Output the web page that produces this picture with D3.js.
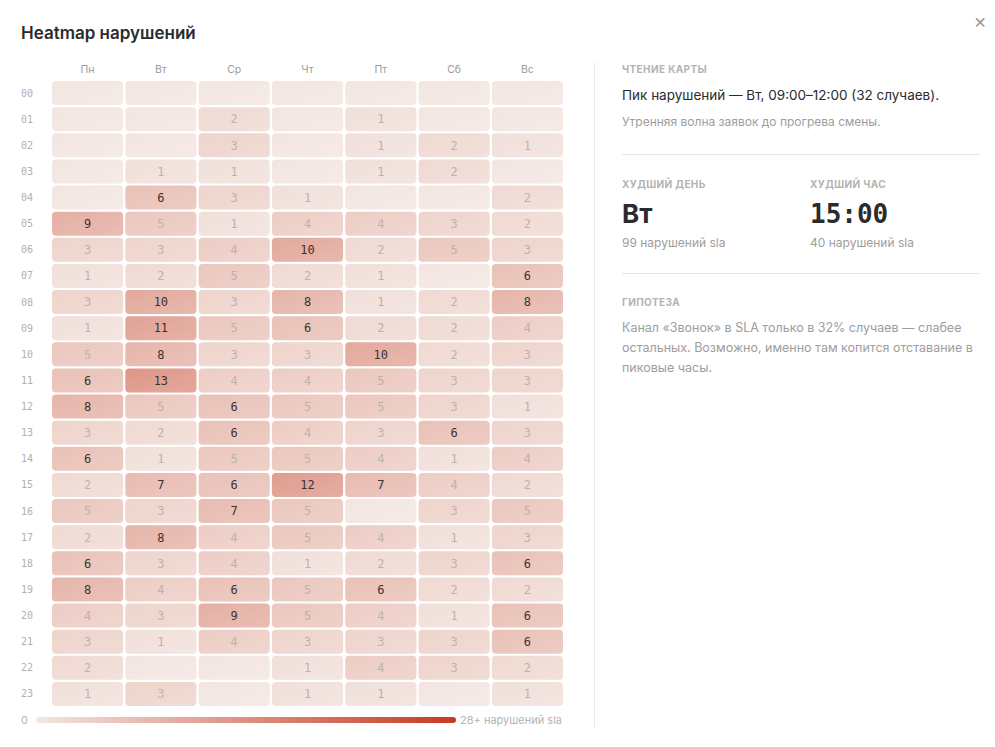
<!DOCTYPE html>
<html>
<head>
<meta charset="utf-8">
<script src="https://cdn.jsdelivr.net/npm/d3@7"></script>
<style>
  body { margin: 0; background: #fff; }
  svg { display: block; font-family: Inter, "Noto Sans", sans-serif; }
</style>
</head>
<body>
<svg id="chart" width="995" height="747"></svg>
<script>
const days = ['Пн', 'Вт', 'Ср', 'Чт', 'Пт', 'Сб', 'Вс'];
const hours = d3.range(24).map(h => String(h).padStart(2, '0'));
// rows = hours 00..23, columns = Пн..Вс
const violations = [
  [0, 0, 0, 0, 0, 0, 0],
  [0, 0, 2, 0, 1, 0, 0],
  [0, 0, 3, 0, 1, 2, 1],
  [0, 1, 1, 0, 1, 2, 0],
  [0, 6, 3, 1, 0, 0, 2],
  [9, 5, 1, 4, 4, 3, 2],
  [3, 3, 4, 10, 2, 5, 3],
  [1, 2, 5, 2, 1, 0, 6],
  [3, 10, 3, 8, 1, 2, 8],
  [1, 11, 5, 6, 2, 2, 4],
  [5, 8, 3, 3, 10, 2, 3],
  [6, 13, 4, 4, 5, 3, 3],
  [8, 5, 6, 5, 5, 3, 1],
  [3, 2, 6, 4, 3, 6, 3],
  [6, 1, 5, 5, 4, 1, 4],
  [2, 7, 6, 12, 7, 4, 2],
  [5, 3, 7, 5, 0, 3, 5],
  [2, 8, 4, 5, 4, 1, 3],
  [6, 3, 4, 1, 2, 3, 6],
  [8, 4, 6, 5, 6, 2, 2],
  [4, 3, 9, 5, 4, 1, 6],
  [3, 1, 4, 3, 3, 3, 6],
  [2, 0, 0, 1, 4, 3, 2],
  [1, 3, 0, 1, 1, 0, 1]
];
const maxValue = 28;
const legendLabels = ['0', '28+ нарушений sla'];
const hypothesisLines = [
  'Канал «Звонок» в SLA только в 32% случаев — слабее',
  'остальных. Возможно, именно там копится отставание в',
  'пиковые часы.'
];

const svg = d3.select('#chart');
const mono = '"DejaVu Sans Mono", monospace';

// title + close
svg.append('text').attr('x', 21).attr('y', 39)
  .attr('font-size', 17).attr('font-weight', 600).attr('fill', '#2b2b2e')
  .text('Heatmap нарушений');
svg.append('text').attr('x', 980).attr('y', 28).attr('text-anchor', 'middle')
  .attr('font-size', 20).attr('fill', '#9a9a9a').text('×');

const x = d3.scaleBand().domain(days).range([52, 563]).paddingInner(0.03);
const y = d3.scaleBand().domain(hours).range([81, 706]).paddingInner(0.08);
const color = d3.scaleLinear().domain([0, maxValue])
  .range(['#f3e6e1', '#c63a1f']).interpolate(d3.interpolateRgb).clamp(true);

const defs = svg.append('defs');
const sheen = defs.append('linearGradient').attr('id', 'sheen')
  .attr('x1', 0).attr('x2', 1).attr('y1', 0).attr('y2', 1);
sheen.append('stop').attr('offset', '0%').attr('stop-color', '#fff').attr('stop-opacity', 0);
sheen.append('stop').attr('offset', '100%').attr('stop-color', '#fff').attr('stop-opacity', 0.18);

// column labels
svg.append('g').selectAll('text').data(days).join('text')
  .attr('x', d => x(d) + x.bandwidth() / 2).attr('y', 73)
  .attr('text-anchor', 'middle').attr('font-size', 10.5).attr('fill', '#9b9b9b')
  .text(d => d);

// row labels
svg.append('g').selectAll('text').data(hours).join('text')
  .attr('x', 21).attr('y', d => y(d) + y.bandwidth() / 2).attr('dy', '0.35em')
  .attr('font-family', mono).attr('font-size', 10).attr('fill', '#b0b0b0')
  .text(d => d);

const cells = [];
violations.forEach((row, i) => row.forEach((v, j) => cells.push({ hour: hours[i], day: days[j], v })));

const cell = svg.append('g').selectAll('g').data(cells).join('g')
  .attr('transform', d => `translate(${x(d.day)},${y(d.hour)})`);
cell.append('rect').attr('width', x.bandwidth()).attr('height', y.bandwidth())
  .attr('rx', 4).attr('fill', d => color(d.v));
cell.append('rect').attr('width', x.bandwidth()).attr('height', y.bandwidth())
  .attr('rx', 4).attr('fill', 'url(#sheen)');
cell.filter(d => d.v > 0).append('text')
  .attr('x', x.bandwidth() / 2).attr('y', y.bandwidth() / 2).attr('dy', '0.36em')
  .attr('text-anchor', 'middle').attr('font-family', mono).attr('font-size', 12)
  .attr('fill', d => d.v >= 6 ? '#3a3330' : '#bfb1ac')
  .text(d => d.v);

// legend
const lg = defs.append('linearGradient').attr('id', 'legendGrad');
d3.range(0, 1.01, 0.25).forEach(t => lg.append('stop')
  .attr('offset', `${t * 100}%`).attr('stop-color', color(t * maxValue)));
svg.append('text').attr('x', 21).attr('y', 724).attr('font-size', 11).attr('fill', '#b5b5b5').text(legendLabels[0]);
svg.append('rect').attr('x', 36).attr('y', 717).attr('width', 420).attr('height', 6)
  .attr('rx', 3).attr('fill', 'url(#legendGrad)');
svg.append('text').attr('x', 562).attr('y', 724).attr('text-anchor', 'end')
  .attr('font-size', 11).attr('fill', '#b5b5b5').text(legendLabels[1]);

// side panel
svg.append('line').attr('x1', 594.5).attr('x2', 594.5).attr('y1', 62).attr('y2', 728)
  .attr('stroke', '#ececec');
const px = 622;
const cap = (xx, yy, t) => svg.append('text').attr('x', xx).attr('y', yy)
  .attr('font-size', 10).attr('font-weight', 700).attr('letter-spacing', 0.4)
  .attr('fill', '#b3b3b3').text(t);
cap(px, 73, 'ЧТЕНИЕ КАРТЫ');
svg.append('text').attr('x', px).attr('y', 100).attr('font-size', 13.5).attr('fill', '#2b2b2e')
  .text('Пик нарушений — Вт, 09:00–12:00 (32 случаев).');
svg.append('text').attr('x', px).attr('y', 126).attr('font-size', 12).attr('fill', '#9d9d9d')
  .text('Утренняя волна заявок до прогрева смены.');
svg.append('line').attr('x1', px).attr('x2', 980).attr('y1', 154.5).attr('y2', 154.5).attr('stroke', '#e6e6e6');

cap(px, 188, 'ХУДШИЙ ДЕНЬ');
cap(810, 188, 'ХУДШИЙ ЧАС');
svg.append('text').attr('x', px).attr('y', 223).attr('font-size', 26).attr('font-weight', 700)
  .attr('fill', '#2b2b2e').text('Вт');
svg.append('text').attr('x', 810).attr('y', 223).attr('font-size', 26).attr('font-weight', 700)
  .attr('font-family', mono).attr('fill', '#2b2b2e').text('15:00');
svg.append('text').attr('x', px).attr('y', 247).attr('font-size', 12).attr('fill', '#9d9d9d').text('99 нарушений sla');
svg.append('text').attr('x', 810).attr('y', 247).attr('font-size', 12).attr('fill', '#9d9d9d').text('40 нарушений sla');
svg.append('line').attr('x1', px).attr('x2', 980).attr('y1', 273.5).attr('y2', 273.5).attr('stroke', '#e6e6e6');

cap(px, 306, 'ГИПОТЕЗА');
svg.append('g').selectAll('text').data(hypothesisLines).join('text')
  .attr('x', px).attr('y', (d, i) => 332 + i * 20)
  .attr('font-size', 12.5).attr('fill', '#9d9d9d').text(d => d);
</script>
</body>
</html>
